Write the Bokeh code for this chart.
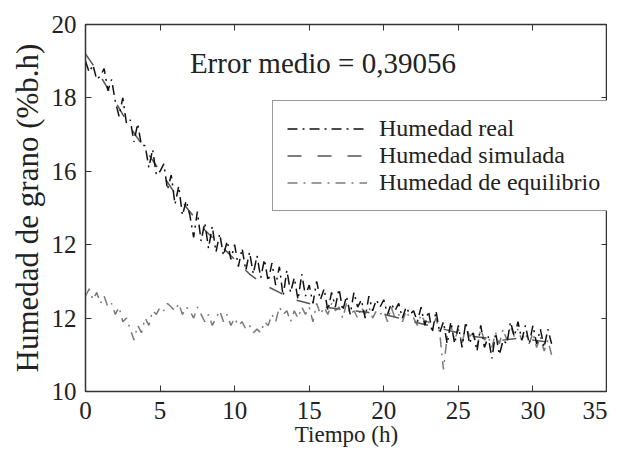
from bokeh.plotting import figure
from bokeh.models import Range1d, LinearAxis, FixedTicker, Label, Legend, LegendItem
from bokeh.embed import file_html
from bokeh.resources import INLINE

# ---- data ----
t_real = [i * 0.25 for i in range(126)]
h_real = [19.0, 18.7, 18.9, 18.5, 18.6, 18.8, 18.2, 18.5, 17.9, 17.5, 18.0, 17.3,
          17.4, 16.8, 17.3, 16.7, 16.7, 16.1, 16.6, 15.9, 16.0, 16.2, 15.5, 15.9,
          15.1, 15.6, 14.8, 15.2, 14.8, 14.2, 14.9, 14.1, 14.6, 13.9, 14.5, 13.8,
          14.3, 13.7, 14.1, 13.6, 14.0, 13.4, 13.9, 13.3, 13.8, 13.2, 13.7, 13.1,
          13.6, 13.0, 13.5, 12.9, 13.4, 12.6, 13.3, 12.7, 13.1, 12.5, 13.2, 12.6,
          12.9, 12.4, 13.0, 12.5, 12.8, 12.2, 12.7, 12.3, 12.8, 12.2, 12.6, 12.1,
          12.7, 12.3, 12.5, 12.0, 12.6, 12.2, 12.5, 12.3, 12.5, 12.1, 12.4, 12.2,
          12.4, 12.0, 12.3, 12.1, 12.2, 11.9, 12.3, 11.8, 12.2, 11.6, 12.2, 11.6,
          11.9, 11.3, 11.9, 11.3, 11.8, 11.2, 11.9, 11.3, 11.6, 11.1, 11.8, 11.2,
          11.5, 10.9, 11.6, 11.0, 11.4, 11.3, 11.9, 11.5, 11.9, 11.4, 11.8, 11.3,
          11.8, 11.3, 11.7, 11.2, 11.7, 11.3]

t_sim = list(range(32))
h_sim = [19.2, 18.6, 17.9, 17.2, 16.6, 16.0, 15.4, 14.9, 14.4, 14.0, 13.6, 13.2,
         12.9, 12.7, 12.5, 12.4, 12.3, 12.25, 12.2, 12.15, 12.1, 12.0, 11.9, 11.8,
         11.7, 11.6, 11.5, 11.45, 11.4, 11.45, 11.4, 11.35]

t_eq = [i * 0.25 for i in range(126)]
h_eq = [12.6, 12.8, 12.5, 12.7, 12.4, 12.6, 12.3, 12.4, 12.1, 12.3, 11.9, 12.0,
        11.7, 11.4, 11.8, 11.6, 12.0, 11.8, 12.2, 12.1, 12.3, 12.2, 12.4, 12.3,
        12.2, 12.4, 12.1, 12.3, 12.2, 12.0, 12.3, 12.1, 11.9, 12.1, 11.8, 12.0,
        12.2, 11.9, 12.1, 11.8, 12.0, 11.8, 11.9, 11.7, 11.8, 11.6, 11.7, 11.6,
        11.9, 11.8, 12.1, 11.9, 12.3, 12.1, 12.2, 11.9, 12.2, 12.0, 12.3, 12.1,
        12.3, 11.9, 12.4, 12.1, 12.3, 12.1, 12.4, 12.2, 12.3, 12.0, 12.4, 12.1,
        12.2, 12.0, 12.3, 12.1, 12.3, 12.0, 12.2, 12.1, 12.2, 11.9, 12.3, 12.0,
        12.1, 11.9, 12.2, 12.0, 12.0, 11.8, 12.1, 11.9, 11.9, 11.7, 12.0, 11.6,
        10.6, 11.5, 11.8, 11.4, 11.7, 11.3, 11.8, 11.5, 11.6, 11.2, 11.7, 11.4,
        11.5, 11.2, 11.6, 11.3, 11.7, 11.4, 11.8, 11.5, 11.7, 11.4, 11.6, 11.3,
        11.6, 11.2, 11.5, 11.1, 11.4, 11.0]

x_ticks = [0, 5, 10, 15, 20, 25, 30, 35]
y_ticks = [10, 12, 14, 16, 18, 20]
y_tick_text = {14: "12"}  # as printed in the reference

FONT = "Liberation Serif"

p = figure(output_backend="svg", toolbar_location=None,
           x_range=Range1d(0, 35), y_range=Range1d(10, 20),
           frame_width=522, frame_height=367,
           min_border_left=85, min_border_right=0, min_border_top=24, min_border_bottom=50)
p.grid.visible = False
p.outline_line_color = "#333333"
p.outline_line_width = 1.5
p.background_fill_color = "white"
p.border_fill_color = "white"

for ax in [p.xaxis[0], p.yaxis[0]]:
    ax.major_tick_in = 6
    ax.major_tick_out = 0
    ax.minor_tick_in = 0
    ax.minor_tick_out = 0
    ax.axis_line_color = "#333333"
    ax.major_tick_line_color = "#333333"
    ax.major_label_text_font = FONT
    ax.major_label_text_font_size = "25px"
    ax.major_label_text_color = "#222222"
    ax.axis_label_text_font = FONT
    ax.axis_label_text_font_style = "normal"
    ax.axis_label_text_color = "#222222"

p.xaxis.ticker = FixedTicker(ticks=x_ticks)
p.yaxis.ticker = FixedTicker(ticks=y_ticks)
p.yaxis.major_label_overrides = y_tick_text
p.xaxis.axis_label = "Tiempo (h)"
p.xaxis.axis_label_text_font_size = "23px"
p.xaxis.major_label_standoff = 10
p.xaxis.axis_label_standoff = 0
p.yaxis.axis_label = "Humedad de grano (%b.h)"
p.yaxis.axis_label_text_font_size = "31px"
p.yaxis.major_label_standoff = 9
p.yaxis.axis_label_standoff = 4

top = LinearAxis(ticker=FixedTicker(ticks=x_ticks), major_tick_in=6, major_tick_out=0,
                 minor_tick_in=0, minor_tick_out=0,
                 major_label_overrides={t: "" for t in x_ticks},
                 axis_line_color="#333333", major_tick_line_color="#333333")
right = LinearAxis(ticker=FixedTicker(ticks=y_ticks), major_tick_in=6, major_tick_out=0,
                   minor_tick_in=0, minor_tick_out=0,
                   major_label_overrides={t: "" for t in y_ticks},
                   axis_line_color="#333333", major_tick_line_color="#333333")
p.add_layout(top, "above")
p.add_layout(right, "right")

r_eq = p.line(t_eq, h_eq, line_color="#7a7a7a", line_width=1.5, line_dash="10 6 2 6")
r_sim = p.line(t_sim, h_sim, line_color="#555555", line_width=1.5, line_dash="14 16")
r_real = p.line(t_real, h_real, line_color="#111111", line_width=1.5, line_dash="10 5 2 5")

p.add_layout(Label(x=7.0, y=18.96, text="Error medio = 0,39056", text_baseline="middle",
                   text_font=FONT, text_font_size="29px", text_color="#222222"))

legend = Legend(items=[LegendItem(label="Humedad real", renderers=[r_real]),
                       LegendItem(label="Humedad simulada", renderers=[r_sim]),
                       LegendItem(label="Humedad de equilibrio", renderers=[r_eq])],
                location=(187, 180), label_text_font=FONT, label_text_font_size="24px",
                label_text_color="#222222", glyph_width=80, glyph_height=27,
                label_height=27, spacing=0, padding=14, margin=0, label_standoff=12,
                border_line_color="#333333", border_line_width=1.2,
                background_fill_alpha=1.0)
p.add_layout(legend, "center")

open("out.html", "w").write(file_html(p, INLINE))
